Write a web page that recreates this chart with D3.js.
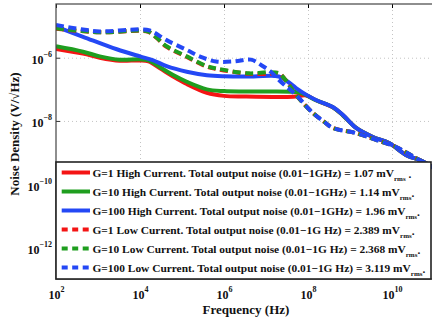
<!DOCTYPE html>
<html>
<head>
<meta charset="utf-8">
<script src="https://cdn.jsdelivr.net/npm/d3@7"></script>
<style>
  body { margin: 0; background: #fff; }
</style>
</head>
<body>
<div id="wrapper"></div>
<script>
// tick values and labels
const xTicks = [1e2, 1e4, 1e6, 1e8, 1e10];
const xTickExps = ["2", "4", "6", "8", "10"];
const yTicks = [1e-6, 1e-8, 1e-10, 1e-12];
const yTickExps = ["\u22126", "\u22128", "\u221210", "\u221212"];

// noise density curves, [frequency Hz, V/sqrt(Hz)]
const g1High = [
    [1e2, 1.9e-6], [4.4e2, 1.35e-6], [1.1e3, 1.0e-6], [3.3e3, 8.0e-7], [1e4, 8.2e-7],
    [1.6e4, 7.6e-7], [3e4, 4.6e-7], [6e4, 2.6e-7], [1.3e5, 1.47e-7], [3.9e5, 7.8e-8],
    [1e6, 6.2e-8], [3e6, 5.9e-8], [4.4e7, 5.8e-8], [9.0e7, 6.4e-8], [1.55e8, 4.5e-8],
    [3.9e8, 2.7e-8], [6.8e8, 1.5e-8], [1.4e9, 6.0e-9], [3.5e9, 3.1e-9], [8.5e9, 2.0e-9],
    [2.2e10, 8.3e-10], [5.2e10, 5.4e-10], [1e11, 3.2e-10]
];
const g10High = [
    [1e2, 2.3e-6], [4.4e2, 1.55e-6], [1.1e3, 1.1e-6], [3.3e3, 8.6e-7], [1e4, 8.9e-7],
    [1.6e4, 8.2e-7], [3e4, 5.0e-7], [6e4, 2.9e-7], [1.3e5, 1.74e-7], [3.9e5, 1.0e-7],
    [1e6, 8.8e-8], [3e6, 8.5e-8], [4.4e7, 8.4e-8], [6.5e7, 7.8e-8], [9.0e7, 6.6e-8],
    [1.55e8, 4.5e-8], [3.9e8, 2.7e-8], [6.8e8, 1.5e-8], [1.4e9, 6.0e-9], [3.5e9, 3.1e-9],
    [8.5e9, 2.0e-9], [2.2e10, 8.3e-10], [5.2e10, 5.4e-10], [1e11, 3.2e-10]
];
const g100High = [
    [1e2, 9.6e-6], [4.4e2, 4.6e-6], [2.8e3, 1.85e-6], [1e4, 1.1e-6], [2e4, 8.4e-7],
    [4.3e4, 5.4e-7], [1.3e5, 3.6e-7], [3.9e5, 2.8e-7], [1e6, 2.6e-7], [5e6, 2.55e-7],
    [2.0e7, 2.55e-7], [3.2e7, 1.8e-7], [5.2e7, 1.1e-7], [9.0e7, 6.8e-8], [1.55e8, 4.6e-8],
    [3.9e8, 2.75e-8], [6.8e8, 1.54e-8], [1.4e9, 6.0e-9], [3.5e9, 3.1e-9], [8.5e9, 2.0e-9],
    [2.2e10, 8.3e-10], [5.2e10, 5.4e-10], [1e11, 3.2e-10]
];
const g1Low = [
    [1e2, 8.3e-6], [1.1e3, 6.4e-6], [1e4, 7.1e-6], [1.6e4, 6.6e-6], [2.5e4, 4.2e-6],
    [4.3e4, 2.2e-6], [1.3e5, 1.05e-6], [3.9e5, 5.2e-7], [6.5e5, 4.4e-7], [3.9e6, 3.1e-7],
    [1.2e7, 3.1e-7], [2.0e7, 3.3e-7], [2.9e7, 2.0e-7], [5.2e7, 6.6e-8], [1.3e8, 1.8e-8],
    [2.4e8, 9.5e-9], [3.9e8, 6.0e-9], [1.4e9, 4.1e-9], [4.2e9, 2.5e-9], [1.25e10, 1.5e-9],
    [3.7e10, 6.7e-10], [1e11, 3.2e-10]
];
const g10Low = [
    [1e2, 8.5e-6], [1.1e3, 6.4e-6], [1e4, 7.2e-6], [1.6e4, 6.7e-6], [2.5e4, 4.3e-6],
    [4.3e4, 2.3e-6], [1.3e5, 1.1e-6], [3.9e5, 5.4e-7], [6.5e5, 4.6e-7], [3.9e6, 3.2e-7],
    [1.2e7, 3.5e-7], [2.0e7, 3.2e-7], [2.9e7, 2.0e-7], [5.2e7, 6.6e-8], [1.3e8, 1.8e-8],
    [2.4e8, 9.5e-9], [3.9e8, 6.0e-9], [1.4e9, 4.1e-9], [4.2e9, 2.5e-9], [1.25e10, 1.5e-9],
    [3.7e10, 6.7e-10], [1e11, 3.2e-10]
];
const g100Low = [
    [1e2, 1.08e-5], [4.4e2, 7.8e-6], [1.1e3, 6.8e-6], [1e4, 7.9e-6], [1.7e4, 7.3e-6],
    [4.3e4, 3.6e-6], [1.3e5, 1.75e-6], [2.7e5, 1.08e-6], [6.5e5, 7.6e-7], [1.7e6, 7.6e-7],
    [4.4e6, 8.7e-7], [7.6e6, 5.9e-7], [1.3e7, 3.6e-7], [2.0e7, 2.0e-7], [2.9e7, 1.3e-7],
    [5.2e7, 6.6e-8], [1.3e8, 1.8e-8], [2.4e8, 9.5e-9], [3.9e8, 6.0e-9], [1.4e9, 4.1e-9],
    [4.2e9, 2.5e-9], [1.25e10, 1.5e-9], [3.7e10, 6.7e-10], [1e11, 3.2e-10]
];

const legendNames = [
    "G=1 High Current. Total output noise (0.01\u22121GHz) = ",
    "G=10 High Current. Total output noise (0.01\u22121GHz) = ",
    "G=100 High Current. Total output noise (0.01\u22121GHz) = ",
    "G=1 Low Current. Total output noise (0.01\u22121G Hz) = ",
    "G=10 Low Current. Total output noise (0.01\u22121G Hz) = ",
    "G=100 Low Current. Total output noise (0.01\u22121G Hz) = "
];
const legendValues = ["1.07", "1.14", "1.96", "2.389", "2.368", "3.119"];

function buildPlot(id) {
    const font = "'Liberation Serif', 'Times New Roman', serif";
    const red = "#f41414", green = "#1f9e1f", blue = "#2448f5";

    const series = [
        {data: g1High, color: red, dashed: false},
        {data: g10High, color: green, dashed: false},
        {data: g100High, color: blue, dashed: false},
        {data: g1Low, color: red, dashed: true},
        {data: g10Low, color: green, dashed: true},
        {data: g100Low, color: blue, dashed: true}
    ];

    var dimension = {
        width: 432,
        height: 320,
        margin: {top: 4, left: 56, bottom: 41, right: -2}
    };
    dimension.boundedWidth = dimension.width - dimension.margin.left - dimension.margin.right;
    dimension.boundedHeight = dimension.height - dimension.margin.top - dimension.margin.bottom;

    const svg = d3.select("#" + id).append("svg")
        .attr("width", dimension.width)
        .attr("height", dimension.height);

    const bounded = svg.append("g")
        .attr("transform", `translate(${dimension.margin.left},${dimension.margin.top})`);

    const xScaler = d3.scaleLog()
        .domain([1e2, 1e11])
        .range([0, dimension.boundedWidth]);

    const yScaler = d3.scaleLog()
        .domain([5e-5, 1e-13])
        .range([0, dimension.boundedHeight]);

    // dotted grid
    bounded.append("g")
        .attr("transform", `translate(0,${dimension.boundedHeight})`)
        .call(d3.axisBottom(xScaler).tickValues(xTicks.slice(1)).tickSize(-dimension.boundedHeight).tickFormat(""))
        .call(g => g.select(".domain").remove())
        .call(g => g.selectAll("line").attr("stroke", "#c4c4c4").attr("stroke-dasharray", "1,3"));

    bounded.append("g")
        .call(d3.axisLeft(yScaler).tickValues(yTicks).tickSize(-dimension.boundedWidth).tickFormat(""))
        .call(g => g.select(".domain").remove())
        .call(g => g.selectAll("line").attr("stroke", "#c4c4c4").attr("stroke-dasharray", "1,3"));

    // curves
    svg.append("defs").append("clipPath").attr("id", "plotclip")
        .append("rect")
        .attr("width", dimension.boundedWidth)
        .attr("height", dimension.boundedHeight);

    const lineGenerator = d3.line()
        .x(d => xScaler(d[0]))
        .y(d => yScaler(d[1]))
        .curve(d3.curveCatmullRom.alpha(0.5));

    const curves = bounded.append("g").attr("clip-path", "url(#plotclip)");
    series.forEach(s => {
        curves.append("path")
            .attr("d", lineGenerator(s.data))
            .attr("fill", "none")
            .attr("stroke", s.color)
            .attr("stroke-width", 4)
            .attr("stroke-linejoin", "round")
            .attr("stroke-dasharray", s.dashed ? "8,4.5" : null);
    });

    // axes with inward ticks
    const xAxis = d3.axisBottom(xScaler).tickValues(xTicks).tickSizeInner(-4).tickSizeOuter(0).tickFormat("");
    const yAxis = d3.axisLeft(yScaler).tickValues(yTicks).tickSizeInner(-4).tickSizeOuter(0).tickFormat("");

    const xAxisG = bounded.append("g")
        .attr("transform", `translate(0,${dimension.boundedHeight})`)
        .call(xAxis);
    bounded.append("g")
        .call(d3.axisTop(xScaler).tickValues(xTicks).tickSizeInner(-4).tickSizeOuter(0).tickFormat(""))
        .call(g => g.select(".domain").remove());
    const yAxisG = bounded.append("g").call(yAxis);

    [xAxisG, yAxisG].forEach(g => {
        g.select(".domain").remove();
        g.selectAll(".tick line").attr("stroke", "#333");
    });

    xAxisG.selectAll(".tick text")
        .attr("y", 20).attr("dy", null)
        .attr("fill", "#111")
        .style("font-family", font)
        .style("font-weight", "bold")
        .style("font-size", "12px")
        .each(function(d, i) {
            const t = d3.select(this);
            t.append("tspan").text("10");
            t.append("tspan").attr("dy", -7).style("font-size", "8px").text(xTickExps[i]);
        });

    yAxisG.selectAll(".tick text")
        .attr("x", -4).attr("dy", null).attr("y", 6)
        .attr("fill", "#111")
        .style("font-family", font)
        .style("font-weight", "bold")
        .style("font-size", "12px")
        .each(function(d, i) {
            const t = d3.select(this);
            t.append("tspan").text("10");
            t.append("tspan").attr("dy", -7).style("font-size", "8px").text(yTickExps[i]);
        });

    // frame
    bounded.append("rect")
        .attr("width", dimension.boundedWidth)
        .attr("height", dimension.boundedHeight)
        .attr("fill", "none")
        .attr("stroke", "#444")
        .attr("stroke-width", 1.2);

    // legend
    const legend = svg.append("g").attr("transform", "translate(56,162)");
    legend.append("rect")
        .attr("width", 375)
        .attr("height", 117)
        .attr("fill", "#fff")
        .attr("stroke", "#222")
        .attr("stroke-width", 1.6);

    series.forEach((s, i) => {
        const cy = 10.5 + i * 19;
        legend.append("line")
            .attr("x1", 5.7).attr("x2", 34)
            .attr("y1", cy).attr("y2", cy)
            .attr("stroke", s.color)
            .attr("stroke-width", 4)
            .attr("stroke-dasharray", s.dashed ? "6,4.5" : null);
        const txt = legend.append("text")
            .attr("x", 36.5)
            .attr("y", cy + 4)
            .attr("fill", "#111")
            .style("font-family", font)
            .style("font-weight", "bold")
            .style("font-size", "11.4px");
        txt.append("tspan").text(legendNames[i] + legendValues[i] + " mV");
        txt.append("tspan").attr("dy", 4).style("font-size", "7px").text("rms");
        txt.append("tspan").attr("dy", -3).text(i === 0 ? " ." : ".");
    });

    // axis titles
    svg.append("text")
        .attr("x", 246)
        .attr("y", 314)
        .attr("text-anchor", "middle")
        .attr("fill", "#111")
        .style("font-family", font)
        .style("font-weight", "bold")
        .style("font-size", "13px")
        .text("Frequency (Hz)");

    svg.append("text")
        .attr("text-anchor", "middle")
        .attr("transform", "translate(19,134)rotate(-90)")
        .attr("fill", "#111")
        .style("font-family", font)
        .style("font-weight", "bold")
        .style("font-size", "13px")
        .text("Noise Density (V/\u221AHz)");
}

buildPlot("wrapper");
</script>
</body>
</html>
